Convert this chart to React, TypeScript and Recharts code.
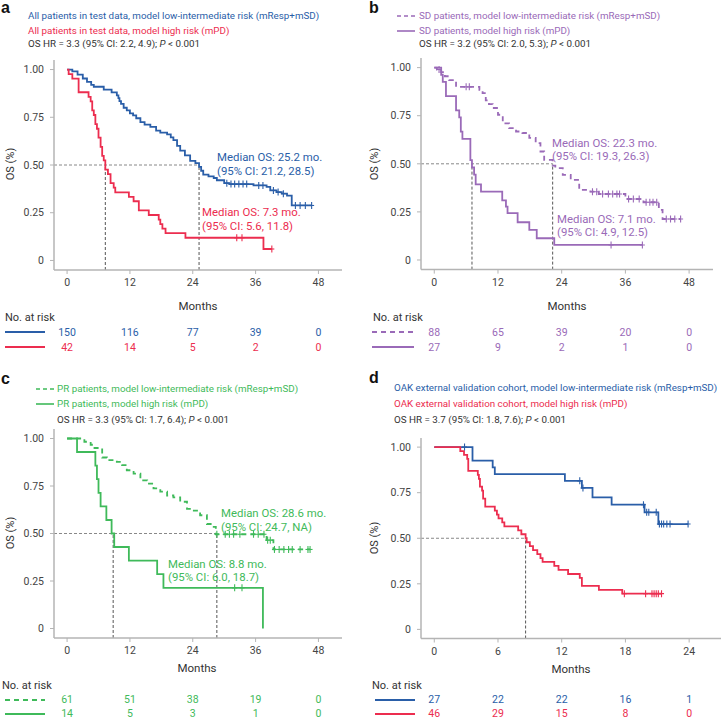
import React from 'react';
import { ComposedChart, Line, Scatter, XAxis, YAxis, ReferenceLine } from 'recharts';

const FONT = 'Roboto, "Noto Sans", sans-serif';
const BLUE = '#2a5ea8';
const RED = '#ec2d4f';
const PURPLE = '#9a6ab8';
const GREEN = '#3fba5a';
const AXIS = '#b4b4b4';
const TEXT = '#333';
const MED = 11.4;

type Step = [number, number];

// ---- panel a: all patients in test data
const aLowSteps: Step[] = [
  [0, 1], [1.0, 0.99], [2.0, 0.973], [3.0, 0.953], [3.8, 0.935], [4.6, 0.92], [5.1, 0.91],
  [7.0, 0.895], [8.5, 0.88], [9.5, 0.865], [9.8, 0.85], [10.0, 0.835], [10.3, 0.82], [10.8, 0.8],
  [11.4, 0.786], [12.0, 0.77], [12.6, 0.76], [13.2, 0.745], [14.0, 0.725], [14.8, 0.712],
  [15.9, 0.7], [17.0, 0.68], [17.8, 0.67], [19.1, 0.66], [19.8, 0.645], [20.3, 0.63], [21.0, 0.6],
  [21.6, 0.575], [22.5, 0.55], [23.5, 0.522], [24.5, 0.51], [25.2, 0.49], [25.6, 0.47], [26.0, 0.45],
  [27.0, 0.44], [28.0, 0.432], [28.6, 0.42], [30.0, 0.405], [31.0, 0.4], [35.6, 0.393], [38.1, 0.385],
  [38.8, 0.367], [40.0, 0.358], [41.0, 0.35], [42.0, 0.34], [42.9, 0.288],
];
const aLowCensor = [30.5, 31.3, 32.0, 32.8, 33.6, 34.3, 36.6, 37.4, 39.4, 40.3, 41.3, 43.6, 44.5, 45.5, 46.7];
const aHighSteps: Step[] = [
  [0, 1], [0.3, 0.976], [1.0, 0.952], [2.2, 0.881], [4.1, 0.857], [4.5, 0.833], [4.8, 0.786],
  [5.1, 0.762], [5.4, 0.714], [5.7, 0.69], [6.0, 0.643], [6.4, 0.595], [6.7, 0.548], [7.0, 0.524],
  [7.3, 0.476], [7.8, 0.452], [8.3, 0.405], [8.9, 0.381], [9.2, 0.357], [11.8, 0.333], [12.7, 0.31],
  [13.7, 0.262], [15.6, 0.238], [17.5, 0.214], [17.8, 0.19], [18.2, 0.167], [18.8, 0.143],
  [22.6, 0.119], [37.5, 0.06],
];
const aHighCensor = [32.4, 33.4, 39.1];
const aMedians = [7.3, 25.2];
const aRiskLow = [150, 116, 77, 39, 0];
const aRiskHigh = [42, 14, 5, 2, 0];

// ---- panel b: SD patients
const bLowSteps: Step[] = [
  [0, 1], [0.5, 0.99], [1.3, 0.977], [2.0, 0.955], [2.8, 0.935], [4.1, 0.9], [8.5, 0.885],
  [9.1, 0.867], [9.7, 0.83], [10.3, 0.81], [11.0, 0.79], [12.0, 0.755], [12.9, 0.71], [14.1, 0.685],
  [15.4, 0.668], [16.6, 0.66], [17.9, 0.635], [19.1, 0.607], [20.0, 0.564], [20.7, 0.52],
  [22.3, 0.49], [22.8, 0.478], [24.2, 0.442], [25.7, 0.416], [27.3, 0.364], [29.4, 0.355],
  [31.0, 0.343], [36.0, 0.317], [39.4, 0.3], [42.3, 0.26], [43.0, 0.213],
];
const bLowCensor = [
  0.9, 6.0, 6.6, 29.8, 30.6, 31.7, 32.8, 33.6, 34.4, 34.9, 36.6, 37.5, 38.6, 39.9, 40.6, 41.2, 41.9,
  43.7, 44.5, 45.3, 46.4,
];
const bHighSteps: Step[] = [
  [0, 1], [1.3, 0.963], [1.6, 0.926], [2.2, 0.852], [4.1, 0.778], [4.7, 0.741], [5.0, 0.667],
  [5.3, 0.63], [6.8, 0.519], [7.1, 0.481], [7.5, 0.444], [7.8, 0.393], [8.8, 0.355], [12.8, 0.31],
  [13.5, 0.277], [13.8, 0.244], [15.7, 0.196], [17.9, 0.156], [19.3, 0.113], [22.6, 0.078],
];
const bHighCensor = [33.3, 39.2];
const bMedians = [7.1, 22.3];
const bRiskLow = [88, 65, 39, 20, 0];
const bRiskHigh = [27, 9, 2, 1, 0];

// ---- panel c: PR patients
const cLowSteps: Step[] = [
  [0, 1], [3.3, 0.983], [4.5, 0.967], [5.0, 0.95], [6.7, 0.9], [7.6, 0.886], [9.5, 0.877],
  [10.5, 0.86], [11.4, 0.833], [12.7, 0.815], [14.0, 0.78], [15.3, 0.763], [16.5, 0.737],
  [17.8, 0.72], [19.1, 0.7], [20.3, 0.69], [21.6, 0.667], [22.9, 0.63], [24.2, 0.62], [25.4, 0.596],
  [26.7, 0.55], [28.0, 0.535], [28.4, 0.496], [38.1, 0.465], [39.4, 0.416],
];
const cLowCensor = [
  28.6, 30.2, 31.0, 31.8, 33.0, 35.6, 36.5, 37.6, 38.3, 38.8, 39.6, 40.5, 41.4, 42.3, 43.0, 44.5,
  46.0, 46.4,
];
const cHighSteps: Step[] = [
  [0, 1], [1.9, 0.929], [5.4, 0.857], [5.7, 0.786], [6.0, 0.714], [6.4, 0.643], [7.5, 0.571],
  [8.5, 0.5], [9.0, 0.429], [11.8, 0.357], [17.2, 0.286], [18.4, 0.214], [37.4, 0],
];
const cHighCensor = [32.0, 33.4];
const cMedians = [8.8, 28.6];
const cRiskLow = [61, 51, 38, 19, 0];
const cRiskHigh = [14, 5, 3, 1, 0];

// ---- panel d: OAK external validation cohort
const dLowSteps: Step[] = [
  [0, 1], [3.6, 0.926], [5.5, 0.889], [5.7, 0.852], [12.3, 0.815], [13.9, 0.776], [14.9, 0.724],
  [16.7, 0.684], [19.8, 0.642], [21.1, 0.578],
];
const dLowCensor = [2.85, 13.7, 14.0, 19.7, 20.0, 20.2, 20.9, 21.2, 21.4, 21.6, 21.9, 22.2, 23.9];
const dHighSteps: Step[] = [
  [0, 1], [2.45, 0.978], [2.8, 0.957], [3.1, 0.935], [3.2, 0.87], [4.1, 0.848], [4.2, 0.826],
  [4.3, 0.783], [4.5, 0.761], [4.6, 0.717], [4.8, 0.674], [5.7, 0.652], [5.9, 0.63], [6.05, 0.609],
  [6.4, 0.587], [6.6, 0.565], [7.9, 0.543], [8.2, 0.522], [8.6, 0.5], [8.7, 0.478], [9.0, 0.457],
  [9.3, 0.435], [9.7, 0.413], [10.0, 0.391], [10.2, 0.37], [11.3, 0.348], [11.7, 0.326],
  [12.6, 0.304], [13.7, 0.283], [13.9, 0.239], [15.5, 0.217], [17.7, 0.196],
];
const dHighCensor = [17.9, 19.9, 20.5, 20.7, 20.9, 21.1, 21.4];
const dMedians = [8.6];
const dRiskLow = [27, 22, 22, 16, 1];
const dRiskHigh = [46, 29, 15, 8, 0];

const ticks48 = [0, 12, 24, 36, 48];
const ticks24 = [0, 6, 12, 18, 24];
const domain48: [number, number] = [-2.5, 52.5];
const domain24: [number, number] = [-1.25, 27];
const yTicks = [0, 0.25, 0.5, 0.75, 1];

interface Curve { steps: Step[]; censors: number[]; color: string; dashed?: boolean }
interface Geo { x0: number; plotL: number; plotR: number; plotT: number; plotB: number }

const survAt = (steps: Step[], t: number) => {
  let s = 1;
  for (const [tt, ss] of steps) if (tt <= t + 1e-9) s = ss;
  return s;
};

const lineData = (c: Curve) => {
  const pts = c.steps.map(([t, s]) => ({ t, s }));
  const last = c.steps[c.steps.length - 1];
  const end = Math.max(last[0], ...c.censors);
  if (end > last[0]) pts.push({ t: end, s: last[1] });
  return pts;
};

const censorData = (c: Curve) => c.censors.map((t) => ({ t, s: survAt(c.steps, t) }));

const censorShape = (color: string) => (p: any) => (
  <g>
    <line x1={p.cx} x2={p.cx} y1={p.cy - 3.5} y2={p.cy + 3.5} stroke={color} strokeWidth={1.1} />
    <line x1={p.cx - 2.5} x2={p.cx + 2.5} y1={p.cy} y2={p.cy} stroke={color} strokeWidth={1.1} />
  </g>
);

function KMPanel({ geo, xDomain, xTicks, curves, medians }: {
  geo: Geo; xDomain: [number, number]; xTicks: number[]; curves: Curve[]; medians: number[];
}) {
  const width = geo.plotR - geo.x0 + 4;
  const plotH = geo.plotB - geo.plotT;
  const height = 5 + plotH + 24;
  const hEnd = Math.max(...medians);
  return (
    <div style={{ position: 'absolute', left: geo.x0, top: geo.plotT - 5 }}>
      <ComposedChart width={width} height={height} margin={{ top: 5, right: 4, bottom: 0, left: 0 }}>
        <XAxis
          type="number"
          dataKey="t"
          domain={xDomain}
          ticks={xTicks}
          interval={0}
          allowDataOverflow
          height={24}
          axisLine={{ stroke: AXIS, strokeWidth: 1.5 }}
          tickLine={{ stroke: AXIS }}
          tickSize={4}
          tickMargin={5}
          tick={{ fontSize: 10.5, fill: '#444', fontFamily: FONT }}
        />
        <YAxis
          type="number"
          dataKey="s"
          domain={[-0.05, 1.05]}
          ticks={yTicks}
          interval={0}
          allowDataOverflow
          width={geo.plotL - geo.x0}
          axisLine={{ stroke: AXIS, strokeWidth: 1.5 }}
          tickLine={{ stroke: AXIS }}
          tickSize={4}
          tickMargin={6}
          tick={{ fontSize: 10.5, fill: '#444', fontFamily: FONT }}
          tickFormatter={(v: number) => (v === 0 ? '0' : v.toFixed(2))}
        />
        <ReferenceLine
          segment={[{ x: xDomain[0], y: 0.5 }, { x: hEnd, y: 0.5 }]}
          stroke="#888"
          strokeDasharray="3 2"
          strokeWidth={1}
        />
        {medians.map((m) => (
          <ReferenceLine
            key={m}
            segment={[{ x: m, y: -0.05 }, { x: m, y: 0.5 }]}
            stroke="#555"
            strokeDasharray="3 2"
            strokeWidth={1}
          />
        ))}
        {curves.map((c, i) => (
          <Line
            key={'l' + i}
            data={lineData(c)}
            dataKey="s"
            type="stepAfter"
            stroke={c.color}
            strokeWidth={1.8}
            strokeDasharray={c.dashed ? '5 4' : undefined}
            dot={false}
            activeDot={false}
            isAnimationActive={false}
          />
        ))}
        {curves.map((c, i) => (
          <Scatter
            key={'c' + i}
            data={censorData(c)}
            dataKey="s"
            shape={censorShape(c.color)}
            isAnimationActive={false}
          />
        ))}
      </ComposedChart>
    </div>
  );
}

interface RiskRow { values: number[]; color: string; dashed?: boolean }

function RiskTable({ geo, xDomain, xTicks, rows, top, gap, labelX, lineX }: {
  geo: Geo; xDomain: [number, number]; xTicks: number[]; rows: RiskRow[]; top: number; gap: number;
  labelX: number; lineX: [number, number];
}) {
  const width = geo.plotR - geo.x0 + 4;
  return (
    <>
      <Txt x={labelX} y={top - 15} size={11}>No. at risk</Txt>
      {rows.map((r, i) => (
        <svg
          key={i}
          style={{ position: 'absolute', left: lineX[0], top: top + gap * i - 2 }}
          width={lineX[1] - lineX[0]}
          height={4}
        >
          <line x1={0} x2={lineX[1] - lineX[0]} y1={2} y2={2} stroke={r.color} strokeWidth={1.9}
            strokeDasharray={r.dashed ? '5 4' : undefined} />
        </svg>
      ))}
      <div style={{ position: 'absolute', left: geo.x0, top: top - gap / 2 }}>
        <ComposedChart width={width} height={gap * 2}
          margin={{ top: 0, right: 4, bottom: 0, left: geo.plotL - geo.x0 }}>
          <XAxis hide type="number" dataKey="t" domain={xDomain} allowDataOverflow />
          <YAxis hide type="number" dataKey="s" domain={[0.5, 2.5]} reversed />
          {rows.map((r, i) => (
            <Scatter
              key={i}
              data={xTicks.map((t, j) => ({ t, s: i + 1, n: r.values[j] }))}
              dataKey="s"
              isAnimationActive={false}
              shape={(p: any) => (
                <text x={p.cx} y={p.cy} textAnchor="middle" dominantBaseline="central"
                  fill={r.color} fontSize={10.5} fontFamily={FONT}>
                  {p.payload.n}
                </text>
              )}
            />
          ))}
        </ComposedChart>
      </div>
    </>
  );
}

function Txt({ x, y, color = TEXT, size = 9.8, bold, center, children }: {
  x: number; y: number; color?: string; size?: number; bold?: boolean; center?: boolean;
  children: React.ReactNode;
}) {
  return (
    <div
      style={{
        position: 'absolute', left: x, top: y, color, fontSize: size, lineHeight: 1,
        fontWeight: bold ? 700 : 400, whiteSpace: 'nowrap', fontFamily: bold ? 'Arial, "Liberation Sans", sans-serif' : FONT,
        transform: center ? 'translate(-50%, -50%)' : 'translateY(-50%)',
      }}
    >
      {children}
    </div>
  );
}

function Sample({ x, y, color, dashed }: { x: number; y: number; color: string; dashed?: boolean }) {
  return (
    <svg style={{ position: 'absolute', left: x, top: y - 2 }} width={18} height={4}>
      <line x1={0} x2={18} y1={2} y2={2} stroke={color} strokeWidth={1.6} strokeDasharray={dashed ? '4 3' : undefined} />
    </svg>
  );
}

function YLabel({ x, y }: { x: number; y: number }) {
  return (
    <div style={{
      position: 'absolute', left: x, top: y, transform: 'translate(-50%, -50%) rotate(-90deg)',
      fontSize: 11, fontFamily: FONT, color: TEXT, whiteSpace: 'nowrap', lineHeight: 1,
    }}>OS (%)</div>
  );
}

const HR = (hr: string) => (
  <>OS HR = {hr}; <i>P</i> &lt; 0.001</>
);

const geoA: Geo = { x0: 0, plotL: 54, plotR: 342, plotT: 59.5, plotB: 269.5 };
const geoB: Geo = { x0: 362, plotL: 421, plotR: 713, plotT: 58, plotB: 269.6 };
const geoC: Geo = { x0: 0, plotL: 54, plotR: 342, plotT: 428.8, plotB: 637.8 };
const geoD: Geo = { x0: 362, plotL: 421, plotR: 721, plotT: 437.6, plotB: 638.1 };

export default function App() {
  return (
    <div style={{ position: 'absolute', left: 0, top: 0, width: 724, height: 720, background: '#fff', overflow: 'hidden' }}>
      {/* panel a */}
      <Txt x={1} y={8} size={16} bold color="#111">a</Txt>
      <Txt x={28} y={16} color={BLUE}>All patients in test data, model low-intermediate risk (mResp+mSD)</Txt>
      <Txt x={28} y={31} color={RED}>All patients in test data, model high risk (mPD)</Txt>
      <Txt x={28} y={44}>{HR('3.3 (95% CI: 2.2, 4.9)')}</Txt>
      <KMPanel geo={geoA} xDomain={domain48} xTicks={ticks48} medians={aMedians}
        curves={[
          { steps: aLowSteps, censors: aLowCensor, color: BLUE },
          { steps: aHighSteps, censors: aHighCensor, color: RED },
        ]} />
      <YLabel x={10} y={164} />
      <Txt x={217} y={158} size={MED} color={BLUE}>Median OS: 25.2 mo.</Txt>
      <Txt x={217} y={172} size={MED} color={BLUE}>(95% CI: 21.2, 28.5)</Txt>
      <Txt x={202} y={213} size={MED} color={RED}>Median OS: 7.3 mo.</Txt>
      <Txt x={202} y={227} size={MED} color={RED}>(95% CI: 5.6, 11.8)</Txt>
      <Txt x={198} y={307} size={11.5} center>Months</Txt>
      <RiskTable geo={geoA} xDomain={domain48} xTicks={ticks48} top={332} gap={15} labelX={5} lineX={[5, 45]}
        rows={[{ values: aRiskLow, color: BLUE }, { values: aRiskHigh, color: RED }]} />

      {/* panel b */}
      <Txt x={369} y={8} size={16} bold color="#111">b</Txt>
      <Sample x={397} y={16} color={PURPLE} dashed />
      <Sample x={397} y={31} color={PURPLE} />
      <Txt x={419} y={16} color={PURPLE}>SD patients, model low-intermediate risk (mResp+mSD)</Txt>
      <Txt x={419} y={31} color={PURPLE}>SD patients, model high risk (mPD)</Txt>
      <Txt x={419} y={44}>{HR('3.2 (95% CI: 2.0, 5.3)')}</Txt>
      <KMPanel geo={geoB} xDomain={domain48} xTicks={ticks48} medians={bMedians}
        curves={[
          { steps: bLowSteps, censors: bLowCensor, color: PURPLE, dashed: true },
          { steps: bHighSteps, censors: bHighCensor, color: PURPLE },
        ]} />
      <YLabel x={374} y={164} />
      <Txt x={552} y={144} size={MED} color={PURPLE}>Median OS: 22.3 mo.</Txt>
      <Txt x={552} y={157} size={MED} color={PURPLE}>(95% CI: 19.3, 26.3)</Txt>
      <Txt x={557} y={220} size={MED} color={PURPLE}>Median OS: 7.1 mo.</Txt>
      <Txt x={557} y={233} size={MED} color={PURPLE}>(95% CI: 4.9, 12.5)</Txt>
      <Txt x={567} y={307} size={11.5} center>Months</Txt>
      <RiskTable geo={geoB} xDomain={domain48} xTicks={ticks48} top={332} gap={15} labelX={373} lineX={[372, 414]}
        rows={[{ values: bRiskLow, color: PURPLE, dashed: true }, { values: bRiskHigh, color: PURPLE }]} />

      {/* panel c */}
      <Txt x={1} y={379} size={16} bold color="#111">c</Txt>
      <Sample x={36} y={389} color={GREEN} dashed />
      <Sample x={36} y={404} color={GREEN} />
      <Txt x={57} y={389} color={GREEN}>PR patients, model low-intermediate risk (mResp+mSD)</Txt>
      <Txt x={57} y={404} color={GREEN}>PR patients, model high risk (mPD)</Txt>
      <Txt x={57} y={420}>{HR('3.3 (95% CI: 1.7, 6.4)')}</Txt>
      <KMPanel geo={geoC} xDomain={domain48} xTicks={ticks48} medians={cMedians}
        curves={[
          { steps: cLowSteps, censors: cLowCensor, color: GREEN, dashed: true },
          { steps: cHighSteps, censors: cHighCensor, color: GREEN },
        ]} />
      <YLabel x={10} y={533} />
      <Txt x={221} y={514} size={MED} color={GREEN}>Median OS: 28.6 mo.</Txt>
      <Txt x={221} y={528} size={MED} color={GREEN}>(95% CI: 24.7, NA)</Txt>
      <Txt x={168} y={565} size={MED} color={GREEN}>Median OS: 8.8 mo.</Txt>
      <Txt x={168} y={578} size={MED} color={GREEN}>(95% CI: 6.0, 18.7)</Txt>
      <Txt x={197} y={669} size={11.5} center>Months</Txt>
      <RiskTable geo={geoC} xDomain={domain48} xTicks={ticks48} top={700} gap={13.5} labelX={2} lineX={[5, 45]}
        rows={[{ values: cRiskLow, color: GREEN, dashed: true }, { values: cRiskHigh, color: GREEN }]} />

      {/* panel d */}
      <Txt x={369} y={378} size={16} bold color="#111">d</Txt>
      <Txt x={394} y={388} color={BLUE}>OAK external validation cohort, model low-intermediate risk (mResp+mSD)</Txt>
      <Txt x={394} y={404} color={RED}>OAK external validation cohort, model high risk (mPD)</Txt>
      <Txt x={394} y={420}>{HR('3.7 (95% CI: 1.8, 7.6)')}</Txt>
      <KMPanel geo={geoD} xDomain={domain24} xTicks={ticks24} medians={dMedians}
        curves={[
          { steps: dLowSteps, censors: dLowCensor, color: BLUE },
          { steps: dHighSteps, censors: dHighCensor, color: RED },
        ]} />
      <YLabel x={374} y={538} />
      <Txt x={571} y={670} size={11.5} center>Months</Txt>
      <RiskTable geo={geoD} xDomain={domain24} xTicks={ticks24} top={700} gap={13.5} labelX={372} lineX={[375, 415]}
        rows={[{ values: dRiskLow, color: BLUE }, { values: dRiskHigh, color: RED }]} />
    </div>
  );
}
